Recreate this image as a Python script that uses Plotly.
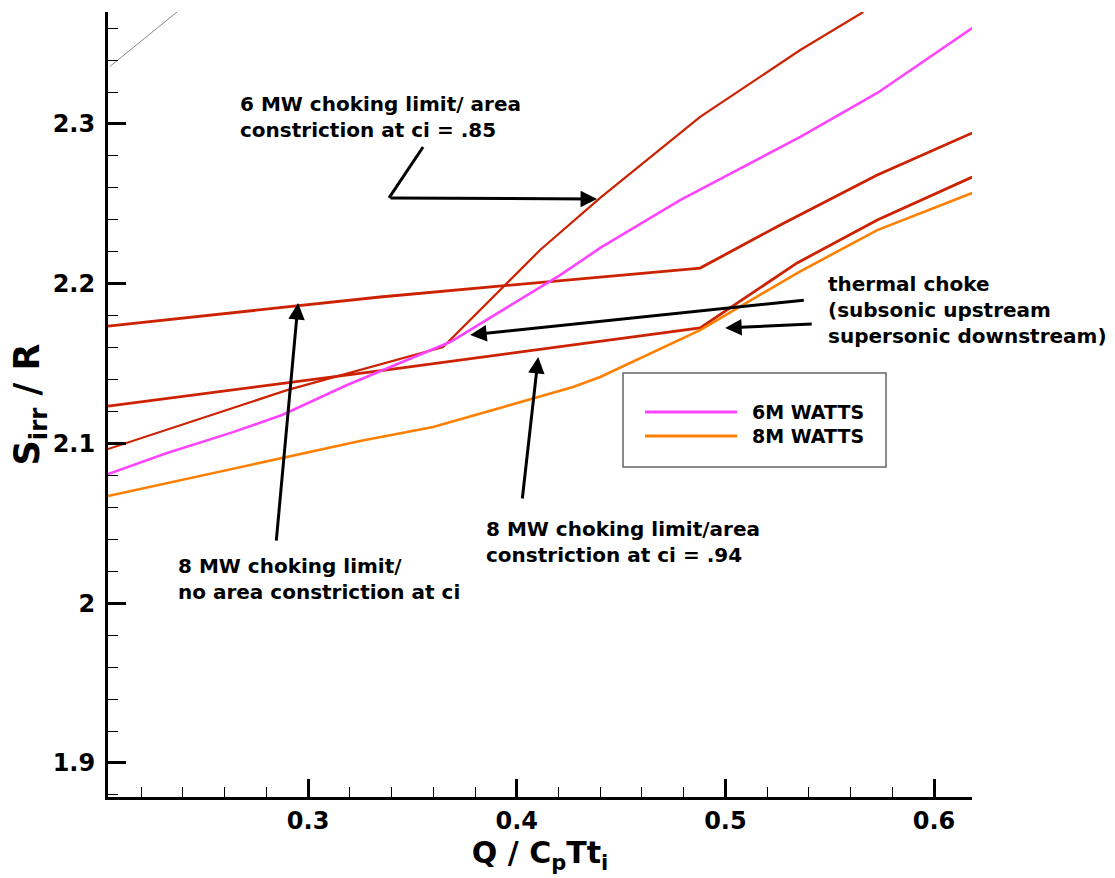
import plotly.graph_objects as go

# ---------------- data ----------------
# 6 MW heat addition curve
q_6mw = [0.2041, 0.2324, 0.2640, 0.2875, 0.3187, 0.3441, 0.3681, 0.4208, 0.4400, 0.4783, 0.5359, 0.5728, 0.6183]
s_6mw = [2.0808, 2.0940, 2.1071, 2.1178, 2.1366, 2.1503, 2.1635, 2.2054, 2.2224, 2.2524, 2.2919, 2.3194, 2.3601]

# 8 MW heat addition curve
q_8mw = [0.2041, 0.2875, 0.3249, 0.3599, 0.4270, 0.4400, 0.4879, 0.5344, 0.5728, 0.6183]
s_8mw = [2.0671, 2.0909, 2.1015, 2.1103, 2.1353, 2.1416, 2.1710, 2.2067, 2.2336, 2.2568]

# 6 MW choking limit, area constriction at ci = .85
q_6mw_ci85 = [0.2041, 0.2899, 0.3647, 0.4112, 0.4400, 0.4879, 0.5359, 0.5661]
s_6mw_ci85 = [2.0965, 2.1334, 2.1604, 2.2211, 2.2537, 2.3044, 2.3463, 2.3701]

# 8 MW choking limit, area constriction at ci = .94
q_8mw_ci94 = [0.2041, 0.3441, 0.4879, 0.5344, 0.5728, 0.6183]
s_8mw_ci94 = [2.1234, 2.1472, 2.1723, 2.2130, 2.2399, 2.2668]

# 8 MW choking limit, no area constriction
q_8mw_noarea = [0.2041, 0.3345, 0.4400, 0.4879, 0.5263, 0.5728, 0.6183]
s_8mw_noarea = [2.1735, 2.1917, 2.2042, 2.2098, 2.2368, 2.2681, 2.2944]

# faint reference line in upper-left corner
q_ref = [0.2050, 0.2380]
s_ref = [2.3360, 2.3710]

legend_labels = ["6M WATTS", "8M WATTS"]
x_tick_vals = [0.3, 0.4, 0.5, 0.6]
x_tick_text = ["0.3", "0.4", "0.5", "0.6"]
y_tick_vals = [1.9, 2.0, 2.1, 2.2, 2.3]
y_tick_text = ["1.9", "2", "2.1", "2.2", "2.3"]

# ---------------- styling ----------------
RED = "#cc2200"
PINK = "#ff44ff"
ORANGE = "#ff8000"
FONT = "DejaVu Sans"

fig = go.Figure()

fig.add_trace(go.Scatter(x=q_ref, y=s_ref, mode="lines",
                         line=dict(color="#888888", width=1), showlegend=False, hoverinfo="skip"))
fig.add_trace(go.Scatter(x=q_8mw_noarea, y=s_8mw_noarea, mode="lines",
                         line=dict(color=RED, width=2.8), showlegend=False))
fig.add_trace(go.Scatter(x=q_8mw_ci94, y=s_8mw_ci94, mode="lines",
                         line=dict(color=RED, width=2.8), showlegend=False))
fig.add_trace(go.Scatter(x=q_6mw_ci85, y=s_6mw_ci85, mode="lines",
                         line=dict(color=RED, width=2.2), showlegend=False))
fig.add_trace(go.Scatter(x=q_8mw, y=s_8mw, mode="lines", name=legend_labels[1],
                         line=dict(color=ORANGE, width=2.6), showlegend=False))
fig.add_trace(go.Scatter(x=q_6mw, y=s_6mw, mode="lines", name=legend_labels[0],
                         line=dict(color=PINK, width=2.6), showlegend=False))

# ---------------- manual legend box (Tecplot style) ----------------
shapes = [
    dict(type="rect", xref="paper", yref="paper", x0=0.5961, x1=0.9005, y0=0.4204, y1=0.5401,
         line=dict(color="#666666", width=1.5), fillcolor="white", layer="above"),
    dict(type="line", xref="paper", yref="paper", x0=0.6215, x1=0.7280, y0=0.4904, y1=0.4904,
         line=dict(color=PINK, width=3), layer="above"),
    dict(type="line", xref="paper", yref="paper", x0=0.6215, x1=0.7280, y0=0.4599, y1=0.4599,
         line=dict(color=ORANGE, width=3), layer="above"),
    # first leg of the bent leader for the 6 MW label
    dict(type="line", xref="x", yref="y", x0=0.3551, y0=2.2856, x1=0.3388, y1=2.2537,
         line=dict(color="black", width=3)),
]

annotations = [
    dict(xref="paper", yref="paper", x=0.743, y=0.4904, text=legend_labels[0], showarrow=False,
         xanchor="left", yanchor="middle", font=dict(family=FONT, size=19, color="black", weight="bold")),
    dict(xref="paper", yref="paper", x=0.743, y=0.4599, text=legend_labels[1], showarrow=False,
         xanchor="left", yanchor="middle", font=dict(family=FONT, size=19, color="black", weight="bold")),
]

text_font = dict(family=FONT, size=20, color="black", weight="bold")
labels = [
    (0.2664, 2.3044, "6 MW choking limit/ area<br>constriction at ci = .85"),
    (0.5480, 2.1835, "thermal choke<br>(subsonic upstream<br>supersonic downstream)"),
    (0.2365, 2.0151, "8 MW choking limit/<br>no area constriction at ci"),
    (0.3845, 2.0385, "8 MW choking limit/area<br>constriction at ci = .94"),
]
for x, y, t in labels:
    annotations.append(dict(xref="x", yref="y", x=x, y=y, text=t, showarrow=False,
                            xanchor="left", yanchor="middle", align="left", font=text_font))

arrows = [
    ((0.3388, 2.2537), (0.4385, 2.2530)),
    ((0.5383, 2.1898), (0.3777, 2.1679)),
    ((0.5421, 2.1748), (0.4999, 2.1723)),
    ((0.2847, 2.0383), (0.2952, 2.1879)),
    ((0.4026, 2.0646), (0.4103, 2.1541)),
]
for (tx, ty), (hx, hy) in arrows:
    annotations.append(dict(xref="x", yref="y", axref="x", ayref="y", x=hx, y=hy, ax=tx, ay=ty,
                            text="", showarrow=True, arrowhead=2, arrowsize=1.1, arrowwidth=3,
                            arrowcolor="black", standoff=0, startstandoff=0))

axis_common = dict(
    showgrid=False, zeroline=False, showline=True, linecolor="black", linewidth=3,
    ticks="inside", ticklen=18, tickwidth=3, tickcolor="black",
    tickfont=dict(family=FONT, size=24, color="black", weight="bold"),
    automargin=False, mirror=False,
    minor=dict(dtick=0.02, ticks="inside", ticklen=10, tickwidth=1, tickcolor="black", showgrid=False),
)

fig.update_layout(
    template="none",
    width=1115, height=878,
    margin=dict(l=108, r=143, t=12, b=81),
    paper_bgcolor="white", plot_bgcolor="white",
    showlegend=False,
    shapes=shapes,
    annotations=annotations,
    xaxis=dict(range=[0.2041, 0.6182], tickmode="array", tickvals=x_tick_vals, ticktext=x_tick_text,
               ticklabelstandoff=0,
               title=dict(text="Q / C<sub>p</sub>Tt<sub>i</sub>", standoff=9,
                          font=dict(family=FONT, size=30, color="black", weight="bold")),
               **axis_common),
    yaxis=dict(range=[1.8787, 2.3701], tickmode="array", tickvals=y_tick_vals, ticktext=y_tick_text,
               ticklabelstandoff=5,
               title=dict(text="S<sub>irr</sub> / R", standoff=2,
                          font=dict(family=FONT, size=35, color="black", weight="bold")),
               **axis_common),
)

fig.write_html("out.html", config={"displayModeBar": False},
               post_script="document.body.style.margin='0';document.body.style.padding='0';")
